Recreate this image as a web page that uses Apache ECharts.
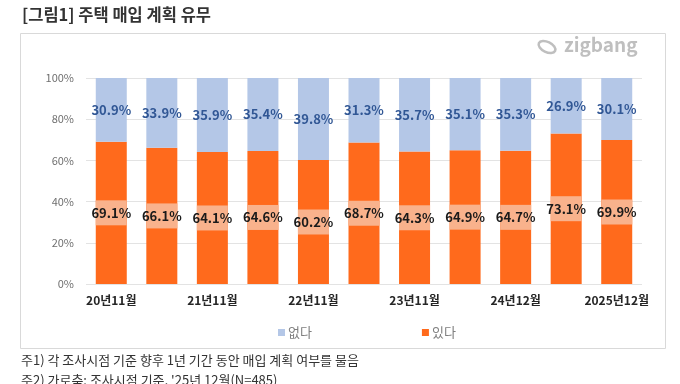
<!DOCTYPE html>
<html><head><meta charset="utf-8">
<script src="https://cdn.jsdelivr.net/npm/echarts@6/dist/echarts.min.js"></script>
<style>html,body{margin:0;padding:0;background:#fff}#c{width:680px;height:384px}</style>
</head><body><div id="c"></div>
<script>
const categories = ['20년11월','21년5월','21년11월','22년5월','22년11월','23년5월','23년11월','24년5월','24년12월','25년6월','2025년12월'];
const noPlan = [30.9, 33.9, 35.9, 35.4, 39.8, 31.3, 35.7, 35.1, 35.3, 26.9, 30.1];
const yesPlan = [69.1, 66.1, 64.1, 64.6, 60.2, 68.7, 64.3, 64.9, 64.7, 73.1, 69.9];
const title = '[그림1] 주택 매입 계획 유무';
const notes = ['주1) 각 조사시점 기준 향후 1년 기간 동안 매입 계획 여부를 물음', "주2) 가로축: 조사시점 기준, '25년 12월(N=485)"];

const FONT = '"Noto Sans CJK KR", "Noto Sans", sans-serif';
const chart = echarts.init(document.getElementById('c'), null, {renderer:'canvas'});
const BW = 31;
chart.setOption({
  animation:false,
  textStyle:{fontFamily:FONT},
  grid:{left:86, right:38, top:78, bottom:100},
  legend:{
    data:['없다','있다'], left:273, top:321, itemWidth:7, itemHeight:7, itemGap:110,
    icon:'rect', textStyle:{fontSize:13, color:'#7f7f7f', fontFamily:FONT, padding:[0,0,0,-2]}
  },
  xAxis:{
    type:'category', data:categories,
    axisLine:{show:false}, axisTick:{show:false},
    axisLabel:{interval:1, fontSize:12, fontWeight:'bold', color:'#262626', margin:10, fontFamily:FONT}
  },
  yAxis:{
    type:'value', min:0, max:100, interval:20,
    axisLabel:{formatter:'{value}%', fontSize:11, color:'#6f6f6f', margin:12, fontFamily:FONT},
    splitLine:{lineStyle:{color:'#e3e3e3', width:1}}
  },
  series:[
    {name:'있다', type:'bar', stack:'s', data:yesPlan, barWidth:BW,
      itemStyle:{color:'#FF6A1C'},
      label:{show:true, position:'inside', formatter:p=>p.value.toFixed(1)+'%',
        fontSize:13, fontWeight:'bold', color:'#1a1a1a', fontFamily:FONT,
        backgroundColor:'#F9B28C', width:BW, height:25, lineHeight:25, align:'center', overflow:'none'}},
    {name:'없다', type:'bar', stack:'s', data:noPlan, barWidth:BW,
      itemStyle:{color:'#B4C7E7'},
      label:{show:true, position:'inside', formatter:p=>p.value.toFixed(1)+'%',
        fontSize:13, fontWeight:'bold', color:'#315795', fontFamily:FONT}}
  ],
  graphic:[
    {type:'text', left:22, top:6, style:{text:title, font:'bold 16.5px '+FONT, fill:'#333'}},
    {type:'rect', shape:{x:20.5, y:33.5, width:645, height:315}, style:{fill:'none', stroke:'#d9d9d9', lineWidth:1}, z:-1},
    {type:'text', left:564, top:35, style:{text:'zigbang', font:'bold 19px '+FONT, fill:'#bfbfbf'}},
    {type:'ellipse', shape:{cx:547, cy:47, rx:9, ry:5}, rotation:-0.45, originX:547, originY:47, style:{fill:'none', stroke:'#bfbfbf', lineWidth:2.5}},
    {type:'text', left:21, top:354, style:{text:notes[0], font:'13px '+FONT, fill:'#333'}},
    {type:'text', left:21, top:374, style:{text:notes[1], font:'13px '+FONT, fill:'#333'}}
  ]
});
</script></body></html>
